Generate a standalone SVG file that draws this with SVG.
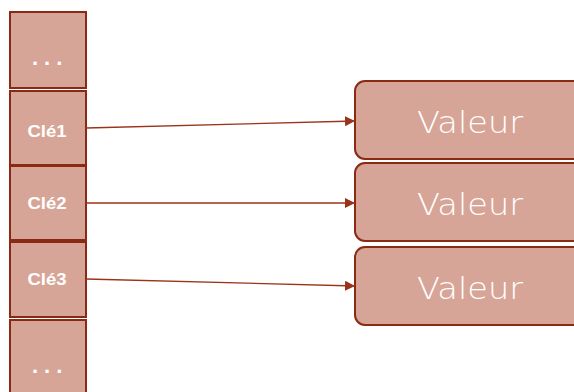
<svg xmlns="http://www.w3.org/2000/svg" width="574" height="392" viewBox="0 0 574 392">
  <style>
    .cell { fill: #d7a597; stroke: #8a2a12; stroke-width: 2; }
    .val { fill: #d7a597; stroke: #8a2a12; stroke-width: 2; }
    .key { font-family: "Liberation Sans", Arial, sans-serif; font-weight: bold; font-size: 16px; fill: #ffffff; text-anchor: middle; }
    .dots { font-family: "Liberation Sans", Arial, sans-serif; font-weight: bold; font-size: 22px; fill: #ffffff; letter-spacing: 6px; }
    .vtxt { font-family: "DejaVu Sans", "Liberation Sans", sans-serif; font-weight: 200; font-size: 31px; fill: #ffffff; text-anchor: middle; }
    .link { stroke: #9b3319; stroke-width: 1.3; fill: none; marker-end: url(#arrow); }
  </style>
  <defs>
    <marker id="arrow" viewBox="0 0 10 10" refX="10" refY="5" markerWidth="10" markerHeight="10" markerUnits="userSpaceOnUse" orient="auto">
      <path d="M0,0 L10,5 L0,10 z" fill="#9b3319"/>
    </marker>
  </defs>
  <rect width="574" height="392" fill="#ffffff"/>

  <!-- key column -->
  <g id="cell-top">
    <rect class="cell" x="10" y="12" width="76" height="76"/>
    <text class="dots" x="32" y="65">...</text>
  </g>
  <g id="cle1">
    <rect class="cell" x="10" y="91" width="76" height="74"/>
    <text class="key" x="47" y="137" textLength="39" lengthAdjust="spacingAndGlyphs">Clé1</text>
  </g>
  <g id="cle2">
    <rect class="cell" x="10" y="166" width="76" height="74"/>
    <text class="key" x="47" y="209" textLength="39" lengthAdjust="spacingAndGlyphs">Clé2</text>
  </g>
  <g id="cle3">
    <rect class="cell" x="10" y="242" width="76" height="75"/>
    <text class="key" x="47" y="285" textLength="39" lengthAdjust="spacingAndGlyphs">Clé3</text>
  </g>
  <g id="cell-bottom">
    <rect class="cell" x="10" y="320" width="76" height="80"/>
    <text class="dots" x="32" y="373">...</text>
  </g>

  <!-- value boxes -->
  <g id="valeur1">
    <rect class="val" x="355" y="81" width="240" height="78" rx="10"/>
    <text class="vtxt" x="470" y="133" textLength="106" lengthAdjust="spacingAndGlyphs">Valeur</text>
  </g>
  <g id="valeur2">
    <rect class="val" x="355" y="163" width="240" height="78" rx="10"/>
    <text class="vtxt" x="470" y="215" textLength="106" lengthAdjust="spacingAndGlyphs">Valeur</text>
  </g>
  <g id="valeur3">
    <rect class="val" x="355" y="247" width="240" height="78" rx="10"/>
    <text class="vtxt" x="470" y="299" textLength="106" lengthAdjust="spacingAndGlyphs">Valeur</text>
  </g>

  <!-- connectors -->
  <g id="connectors">
    <line class="link" x1="86" y1="128" x2="355" y2="121"/>
    <line class="link" x1="86" y1="203" x2="355" y2="203"/>
    <line class="link" x1="86" y1="279" x2="355" y2="286"/>
  </g>
</svg>
